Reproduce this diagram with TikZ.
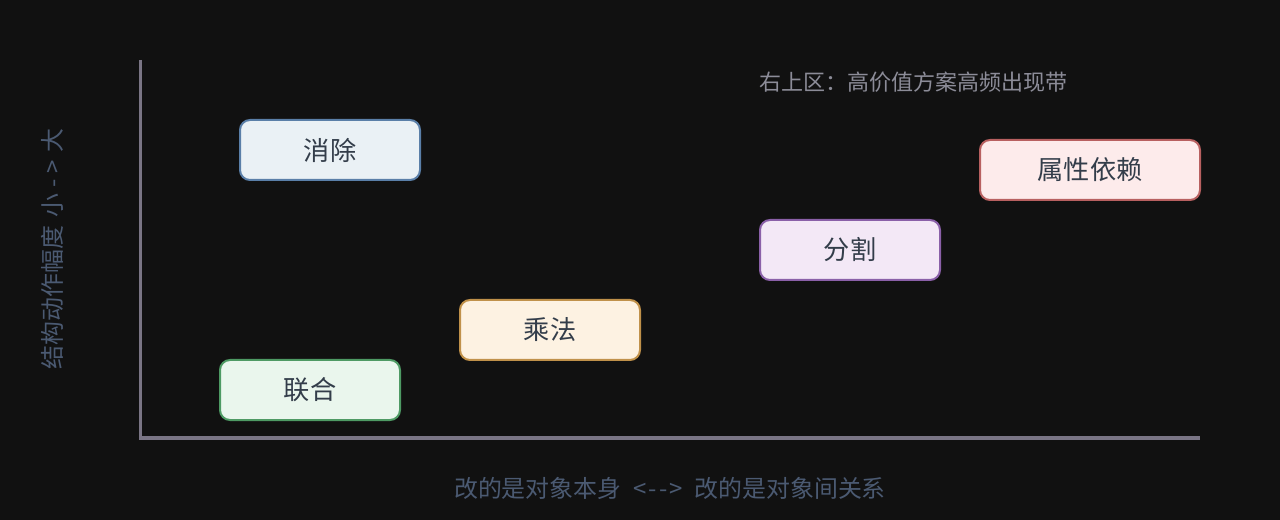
\documentclass[tikz,border=0pt]{standalone}
\usepackage{fontspec}
\setmainfont[Ligatures=TeXOff]{Noto Sans CJK SC}
\definecolor{bg}{HTML}{111111}
\definecolor{axis}{HTML}{7A7585}
\definecolor{boxtext}{HTML}{333D4A}
\definecolor{axlabel}{HTML}{4B5A72}
\definecolor{note}{HTML}{8C8C98}
\definecolor{bluefill}{HTML}{EAF1F5}\definecolor{blueline}{HTML}{5A7FA8}
\definecolor{greenfill}{HTML}{EAF6ED}\definecolor{greenline}{HTML}{4E9A64}
\definecolor{orangefill}{HTML}{FDF2E2}\definecolor{orangeline}{HTML}{C0914A}
\definecolor{purplefill}{HTML}{F3E8F6}\definecolor{purpleline}{HTML}{8A60A8}
\definecolor{redfill}{HTML}{FDEBEB}\definecolor{redline}{HTML}{B86060}
\tikzset{
  card/.style={draw, line width=2bp, rounded corners=10bp, minimum height=60bp,
    inner sep=0pt, text=boxtext, font=\fontsize{26.3}{30}\selectfont},
  axisline/.style={draw=axis, line width=3bp},
  axislabel/.style={text=axlabel, font=\fontsize{24}{28}\selectfont, inner sep=0pt},
  notelabel/.style={text=note, font=\fontsize{22.1}{26}\selectfont, inner sep=0pt, anchor=west}
}
\begin{document}
\begin{tikzpicture}[x=1bp,y=-1bp]
\fill[bg] (0,0) rectangle (1280,520);
\useasboundingbox (0,0) rectangle (1280,520);
% axes
\coordinate (ytop) at (140,60);
\coordinate (origin) at (140,438);
\coordinate (xend) at (1200,438);
\draw[axisline] (ytop) -- (origin) -- (xend);
% labels
\node[axislabel] (xlab) at (670,488) {改的是对象本身\hspace{12bp}<\kern2bp-\kern2bp-\kern2bp>\hspace{12bp}改的是对象间关系};
\node[axislabel, rotate=90] (ylab) at (52,249) {结构动作幅度\hspace{8bp}小\hspace{7bp}-\hspace{5bp}>\hspace{8bp}大};
\node[notelabel] (note) at (759,82) {右上区：高价值方案高频出现带};
% cards
\node[card, fill=bluefill, draw=blueline, minimum width=180bp] (xiaochu) at (330,150) {消除};
\node[card, fill=greenfill, draw=greenline, minimum width=180bp] (lianhe) at (310,390) {联合};
\node[card, fill=orangefill, draw=orangeline, minimum width=180bp] (chengfa) at (550,330) {乘法};
\node[card, fill=purplefill, draw=purpleline, minimum width=180bp] (fenge) at (850,250) {分割};
\node[card, fill=redfill, draw=redline, minimum width=220bp] (shuxing) at (1090,170) {属性依赖};
\end{tikzpicture}
\end{document}
